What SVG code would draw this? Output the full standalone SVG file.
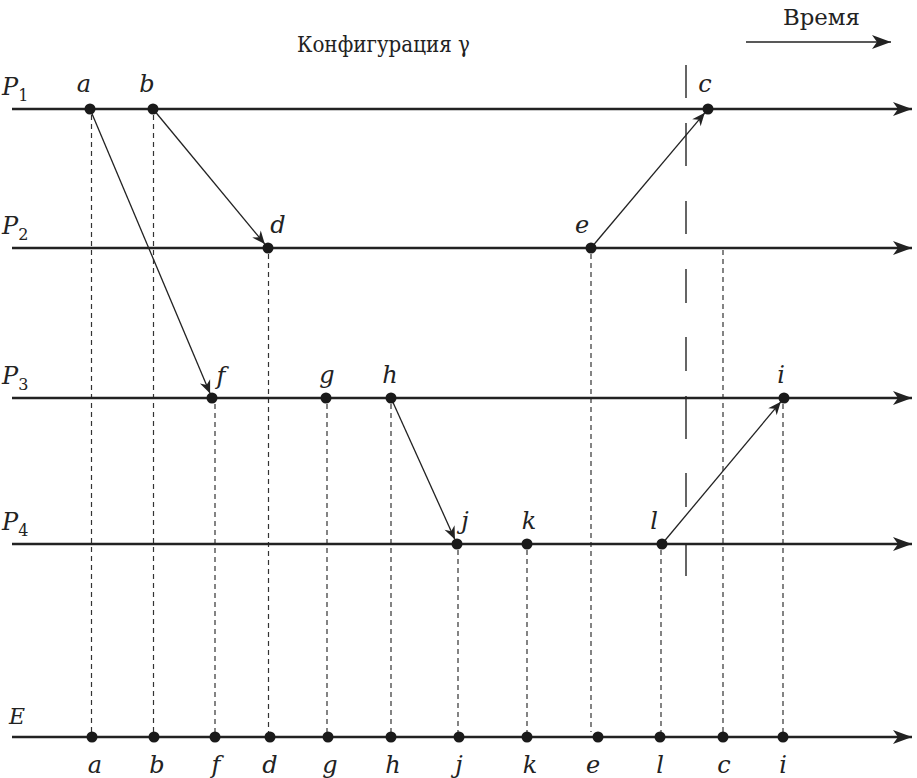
<svg xmlns="http://www.w3.org/2000/svg" width="917" height="778" viewBox="0 0 917 778">
<style>
.axis{stroke:#222;stroke-width:2.5;fill:none}
.msg{stroke:#222;stroke-width:1.3;fill:none}
.proj{stroke:#333;stroke-width:1.2;stroke-dasharray:5 4;fill:none}
.cut{stroke:#333;stroke-width:1.5;fill:none}
.dot{fill:#1a1a1a}
text{font-family:"DejaVu Serif","Liberation Serif",serif;fill:#222}
.lbl{font-size:24px;font-style:italic;text-anchor:middle}
.ttl{font-size:22px}
.pl{font-size:24px;font-style:italic}
</style>
<defs>
<marker id="big" viewBox="-20 -8 22 16" refX="0" refY="0" markerWidth="22" markerHeight="16" markerUnits="userSpaceOnUse" orient="auto">
<path d="M0,0 L-19,-7 L-14,0 L-19,7 Z" fill="#222"/>
</marker>
<marker id="small" viewBox="-14 -6 15 12" refX="0" refY="0" markerWidth="15" markerHeight="12" markerUnits="userSpaceOnUse" orient="auto">
<path d="M0,0 L-13,-5.5 L-9,0 L-13,5.5 Z" fill="#222"/>
</marker>
</defs>

<g id="title">
<text class="ttl" x="297" y="52" textLength="173" lengthAdjust="spacingAndGlyphs">Конфигурация γ</text>
<text class="ttl" x="783" y="25" textLength="77" lengthAdjust="spacingAndGlyphs">Время</text>
<line class="msg" x1="746" y1="42" x2="891" y2="42" style="stroke-width:1.5" marker-end="url(#big)"/>
</g>

<g id="projections">
<line class="proj" x1="91.5" y1="115" x2="91.5" y2="732"/>
<line class="proj" x1="153.5" y1="115" x2="153.5" y2="732"/>
<line class="proj" x1="268.5" y1="254" x2="268.5" y2="732"/>
<line class="proj" x1="591" y1="254" x2="591" y2="732"/>
<line class="proj" x1="723" y1="250" x2="723" y2="732"/>
<line class="proj" x1="215" y1="404" x2="215" y2="732"/>
<line class="proj" x1="327" y1="404" x2="327" y2="732"/>
<line class="proj" x1="391" y1="404" x2="391" y2="732"/>
<line class="proj" x1="783" y1="404" x2="783" y2="732"/>
<line class="proj" x1="458" y1="550" x2="458" y2="732"/>
<line class="proj" x1="527" y1="550" x2="527" y2="732"/>
<line class="proj" x1="661" y1="550" x2="661" y2="732"/>
</g>

<g id="cut-line">
<path class="cut" d="M686,65V98 M686,123V166 M686,201V234 M686,269V303 M686,337V371 M686,396V439 M686,473V507 M686,543V576"/>
</g>

<g id="axes">
<line class="axis" x1="12" y1="109" x2="912" y2="109" marker-end="url(#big)"/>
<line class="axis" x1="12" y1="248" x2="912" y2="248" marker-end="url(#big)"/>
<line class="axis" x1="12" y1="398" x2="912" y2="398" marker-end="url(#big)"/>
<line class="axis" x1="12" y1="544" x2="912" y2="544" marker-end="url(#big)"/>
<line class="axis" x1="12" y1="737" x2="912" y2="737" marker-end="url(#big)"/>
</g>

<g id="connectors">
<line class="msg" x1="90" y1="109" x2="210.1" y2="393.4" marker-end="url(#small)"/>
<line class="msg" x1="153" y1="109" x2="264.8" y2="244.1" marker-end="url(#small)"/>
<line class="msg" x1="591" y1="248" x2="704.8" y2="112.8" marker-end="url(#small)"/>
<line class="msg" x1="391" y1="398" x2="454.9" y2="539.4" marker-end="url(#small)"/>
<line class="msg" x1="662" y1="544" x2="780.8" y2="401.8" marker-end="url(#small)"/>
</g>

<g id="process-labels">
<text class="pl" x="2" y="95">P<tspan font-size="16" dy="6" font-style="normal">1</tspan></text>
<text class="pl" x="2" y="234">P<tspan font-size="16" dy="6" font-style="normal">2</tspan></text>
<text class="pl" x="2" y="384">P<tspan font-size="16" dy="6" font-style="normal">3</tspan></text>
<text class="pl" x="2" y="530">P<tspan font-size="16" dy="6" font-style="normal">4</tspan></text>
<text x="9" y="724" style="font-size:22px;font-style:italic">E</text>
</g>

<g id="node-a"><circle class="dot" cx="90" cy="109" r="5.5"/><text class="lbl" x="84" y="92">a</text></g>
<g id="node-b"><circle class="dot" cx="153" cy="109" r="5.5"/><text class="lbl" x="147" y="92">b</text></g>
<g id="node-c"><circle class="dot" cx="708" cy="109" r="5.5"/><text class="lbl" x="705" y="92">c</text></g>
<g id="node-d"><circle class="dot" cx="268" cy="248" r="5.5"/><text class="lbl" x="278" y="233">d</text></g>
<g id="node-e"><circle class="dot" cx="591" cy="248" r="5.5"/><text class="lbl" x="582" y="233">e</text></g>
<g id="node-f"><circle class="dot" cx="212" cy="398" r="5.5"/><text class="lbl" x="221" y="384">f</text></g>
<g id="node-g"><circle class="dot" cx="326" cy="398" r="5.5"/><text class="lbl" x="327" y="383">g</text></g>
<g id="node-h"><circle class="dot" cx="391" cy="398" r="5.5"/><text class="lbl" x="390" y="383">h</text></g>
<g id="node-i"><circle class="dot" cx="784" cy="398" r="5.5"/><text class="lbl" x="781" y="383">i</text></g>
<g id="node-j"><circle class="dot" cx="457" cy="544" r="5.5"/><text class="lbl" x="465" y="529">j</text></g>
<g id="node-k"><circle class="dot" cx="527" cy="544" r="5.5"/><text class="lbl" x="529" y="529">k</text></g>
<g id="node-l"><circle class="dot" cx="662" cy="544" r="5.5"/><text class="lbl" x="654" y="529">l</text></g>

<g id="ordering">
<circle class="dot" cx="92" cy="737" r="5.5"/><text class="lbl" x="95" y="773">a</text>
<circle class="dot" cx="154" cy="737" r="5.5"/><text class="lbl" x="157" y="773">b</text>
<circle class="dot" cx="215" cy="737" r="5.5"/><text class="lbl" x="216" y="773">f</text>
<circle class="dot" cx="270" cy="737" r="5.5"/><text class="lbl" x="270" y="773">d</text>
<circle class="dot" cx="328" cy="737" r="5.5"/><text class="lbl" x="330" y="773">g</text>
<circle class="dot" cx="391" cy="737" r="5.5"/><text class="lbl" x="393" y="773">h</text>
<circle class="dot" cx="459" cy="737" r="5.5"/><text class="lbl" x="459" y="773">j</text>
<circle class="dot" cx="527" cy="737" r="5.5"/><text class="lbl" x="530" y="773">k</text>
<circle class="dot" cx="598" cy="737" r="5.5"/><text class="lbl" x="593" y="773">e</text>
<circle class="dot" cx="660" cy="737" r="5.5"/><text class="lbl" x="660" y="773">l</text>
<circle class="dot" cx="723" cy="737" r="5.5"/><text class="lbl" x="724" y="773">c</text>
<circle class="dot" cx="783" cy="737" r="5.5"/><text class="lbl" x="783" y="773">i</text>
</g>
</svg>
